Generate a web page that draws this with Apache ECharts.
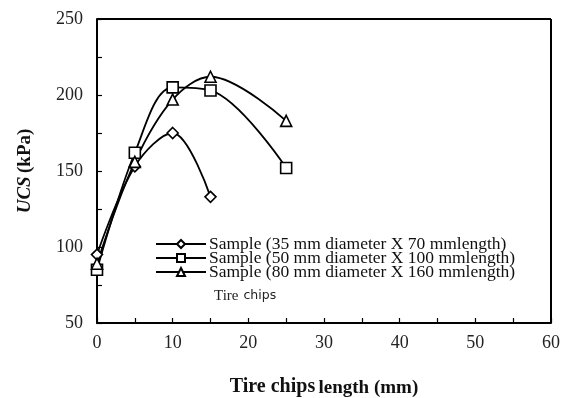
<!DOCTYPE html>
<html>
<head>
<meta charset="utf-8">
<script src="https://cdn.jsdelivr.net/npm/echarts@6/dist/echarts.min.js"></script>
<style>
  html, body { margin: 0; padding: 0; background: #fff; }
  #chart { width: 573px; height: 398px; }
</style>
</head>
<body>
<div id="chart"></div>
<script>
// tire chip length (mm)
const lengths35 = [0, 5, 10, 15];
const lengths50 = [0, 5, 10, 15, 25];
const lengths80 = [0, 5, 10, 15, 25];

// UCS (kPa)
const ucs35 = [95, 153, 175, 133];
const ucs50 = [85, 162, 205, 203, 152];
const ucs80 = [89, 156, 197, 212, 183];

const seriesNames = [
  'Sample (35 mm diameter X 70 mmlength)',
  'Sample (50 mm diameter X 100 mmlength)',
  'Sample (80 mm diameter X 160 mmlength)'
];

const serif = '"Liberation Serif", "DejaVu Serif", serif';

function zip(xs, ys) {
  return xs.map((x, i) => [x, ys[i]]);
}

function makeSeries(name, data, symbol, size) {
  return {
    name: name,
    type: 'line',
    data: data,
    smooth: 0.35,
    symbol: symbol,
    symbolSize: size,
    showAllSymbol: true,
    lineStyle: { color: '#000', width: 1.8 },
    itemStyle: { color: '#fff', borderColor: '#000', borderWidth: 1.6 },
    emphasis: { disabled: true }
  };
}

const chart = echarts.init(document.getElementById('chart'));

chart.setOption({
  backgroundColor: '#fff',
  animation: false,
  grid: { left: 97, right: 22, top: 19, bottom: 75, outerBoundsMode: 'none', containLabel: false },
  title: {
    text: '{a|Tire} {b|chips}',
    left: 209,
    top: 282,
    textStyle: {
      rich: {
        a: { fontFamily: serif, fontSize: 15, fontWeight: 'normal', color: '#222' },
        b: { fontFamily: '"DejaVu Sans", sans-serif', fontSize: 12.5, fontWeight: 'normal', color: '#222' }
      }
    }
  },
  legend: {
    orient: 'vertical',
    left: 155,
    top: 235,
    itemWidth: 50,
    itemHeight: 10,
    itemGap: -4,
    padding: 0,
    textStyle: {
      fontFamily: serif,
      fontSize: 17.5,
      lineHeight: 14,
      color: '#111',
      padding: [0, 0, 0, -2]
    },
    data: seriesNames
  },
  xAxis: {
    type: 'value',
    min: 0,
    max: 60,
    interval: 5,
    name: '{a|Tire chips} {b|length (mm)}',
    nameLocation: 'middle',
    nameGap: 52,
    nameTextStyle: {
      rich: {
        a: { fontFamily: serif, fontSize: 20, fontWeight: 'bold', color: '#111' },
        b: { fontFamily: serif, fontSize: 19, fontWeight: 'bold', color: '#111', padding: [4, 0, 0, 0] }
      }
    },
    axisLine: { lineStyle: { color: '#000', width: 2 } },
    axisTick: { inside: true, length: 5, lineStyle: { color: '#000', width: 1.2 } },
    axisLabel: {
      margin: 11,
      fontFamily: serif,
      fontSize: 18,
      color: '#222',
      formatter: v => (v % 10 === 0 ? String(v) : '')
    },
    splitLine: { show: false }
  },
  yAxis: {
    type: 'value',
    min: 50,
    max: 250,
    interval: 25,
    name: '{i|UCS} {b|(kPa)}',
    nameLocation: 'middle',
    nameGap: 62,
    nameRotate: 90,
    nameTextStyle: {
      rich: {
        i: { fontFamily: serif, fontSize: 19, fontWeight: 'bold', fontStyle: 'italic', color: '#111' },
        b: { fontFamily: serif, fontSize: 19, fontWeight: 'bold', color: '#111' }
      }
    },
    axisLine: { lineStyle: { color: '#000', width: 2 } },
    axisTick: { inside: true, length: 5, lineStyle: { color: '#000', width: 1.2 } },
    axisLabel: {
      margin: 14,
      fontFamily: serif,
      fontSize: 18,
      color: '#222',
      formatter: v => (v % 50 === 0 ? String(v) : '')
    },
    splitLine: { show: false }
  },
  series: [
    makeSeries(seriesNames[0], zip(lengths35, ucs35), 'diamond', 11),
    makeSeries(seriesNames[1], zip(lengths50, ucs50), 'rect', 11),
    makeSeries(seriesNames[2], zip(lengths80, ucs80), 'triangle', 11),
    // box frame on top and right
    {
      type: 'line',
      data: [],
      markLine: {
        silent: true,
        symbol: 'none',
        label: { show: false },
        lineStyle: { color: '#000', width: 2, type: 'solid' },
        data: [{ yAxis: 250 }, { xAxis: 60 }]
      }
    }
  ]
});
</script>
</body>
</html>
